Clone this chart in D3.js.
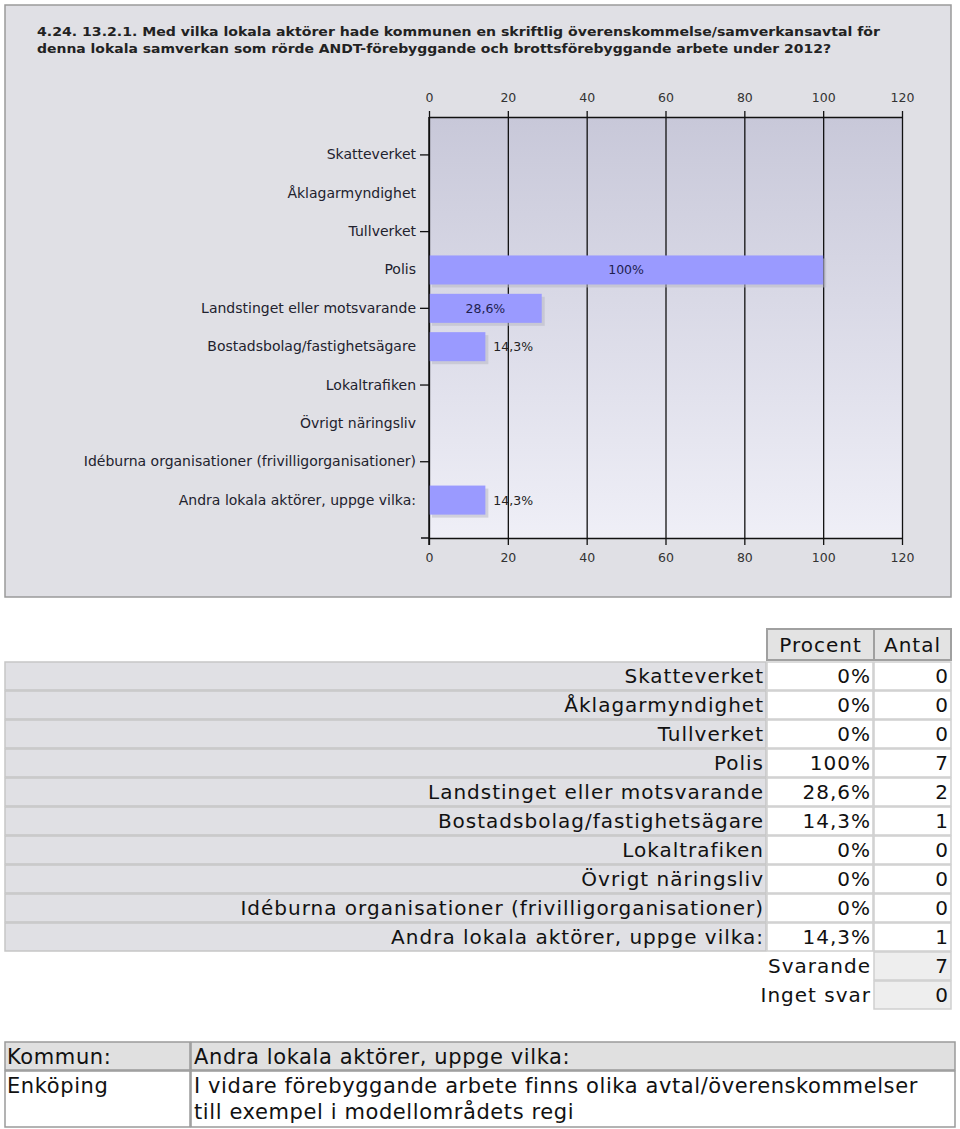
<!DOCTYPE html>
<html><head><meta charset="utf-8">
<script src="https://cdn.jsdelivr.net/npm/d3@7/dist/d3.min.js"></script>
<style>body{margin:0;background:#fff;}svg{display:block;font-family:"DejaVu Sans",Verdana,sans-serif;}</style>
</head><body>
<script>
const titleLines = [
  "4.24. 13.2.1. Med vilka lokala aktörer hade kommunen en skriftlig överenskommelse/samverkansavtal för",
  "denna lokala samverkan som rörde ANDT-förebyggande och brottsförebyggande arbete under 2012?"
];
const categories = ["Skatteverket","Åklagarmyndighet","Tullverket","Polis","Landstinget eller motsvarande",
  "Bostadsbolag/fastighetsägare","Lokaltrafiken","Övrigt näringsliv",
  "Idéburna organisationer (frivilligorganisationer)","Andra lokala aktörer, uppge vilka:"];
const percent = [0,0,0,100,28.6,14.3,0,0,0,14.3];
const percentLabels = ["0%","0%","0%","100%","28,6%","14,3%","0%","0%","0%","14,3%"];
const counts = [0,0,0,7,2,1,0,0,0,1];
const xTicks = [0,20,40,60,80,100,120];
const summaryLabels = ["Svarande","Inget svar"];
const summaryValues = [7,0];
const commentHeader = ["Kommun:","Andra lokala aktörer, uppge vilka:"];
const commentKommun = "Enköping";
const commentLines = ["I vidare förebyggande arbete finns olika avtal/överenskommelser","till exempel i modellområdets regi"];

const svg = d3.select("body").append("svg").attr("width",960).attr("height",1129);
const defs = svg.append("defs");
const grad = defs.append("linearGradient").attr("id","bg").attr("x1",0).attr("y1",0).attr("x2",0).attr("y2",1);
grad.append("stop").attr("offset","0%").attr("stop-color","#c8c8d9");
grad.append("stop").attr("offset","100%").attr("stop-color","#efeff7");

// panel
svg.append("rect").attr("x",5).attr("y",5).attr("width",946).attr("height",592)
  .attr("fill","#e0e0e5").attr("stroke","#9a9a9a").attr("stroke-width",1.5);

svg.selectAll("text.title").data(titleLines).join("text").attr("class","title")
  .attr("x",37).attr("y",(d,i)=>36+i*17).attr("font-size",13).attr("font-weight","bold")
  .attr("fill","#222").attr("textLength",(d,i)=>i===0?843:794).attr("lengthAdjust","spacingAndGlyphs")
  .text(d=>d);

const x = d3.scaleLinear().domain([0,120]).range([429,902]);
const y = d3.scaleBand().domain(categories).range([117,538]).paddingInner(0.243).paddingOuter(0.61);
const yTop = 117, yBot = 538;

svg.append("rect").attr("x",x(0)).attr("y",yTop).attr("width",x(120)-x(0)).attr("height",yBot-yTop).attr("fill","url(#bg)");

// grid lines
svg.append("g").attr("transform",`translate(0,${yBot})`)
  .call(d3.axisBottom(x).tickValues(xTicks).tickSize(-(yBot-yTop)).tickFormat(""))
  .call(g=>g.select(".domain").remove())
  .call(g=>g.selectAll("line").attr("stroke","#111").attr("stroke-width",1.3));

// bars
const data = categories.map((c,i)=>({c,v:percent[i],l:percentLabels[i]}));
const nz = data.filter(d=>d.v>0);
svg.selectAll("rect.shadow").data(nz).join("rect").attr("class","shadow")
  .attr("x",x(0)+3).attr("y",d=>y(d.c)+3).attr("width",d=>x(d.v)-x(0)).attr("height",y.bandwidth())
  .attr("fill","#b8b8c4").attr("opacity",0.55);
svg.selectAll("rect.bar").data(nz).join("rect").attr("class","bar")
  .attr("x",x(0)).attr("y",d=>y(d.c)).attr("width",d=>x(d.v)-x(0)).attr("height",y.bandwidth())
  .attr("fill","#9a9aff");
svg.selectAll("text.val").data(nz).join("text").attr("class","val")
  .attr("x",d=> (x(d.v)-x(0))>70 ? (x(0)+x(d.v))/2 : x(d.v)+8)
  .attr("text-anchor",d=> (x(d.v)-x(0))>70 ? "middle":"start")
  .attr("y",d=>y(d.c)+y.bandwidth()/2).attr("dy","0.36em")
  .attr("font-size",12.5).attr("fill",d=>(x(d.v)-x(0))>70?"#1e1e50":"#222").text(d=>d.l);

// y axis labels
const ya = svg.append("g").attr("transform",`translate(${x(0)},0)`)
  .call(d3.axisLeft(y).tickSize(0).tickPadding(13));
ya.select(".domain").remove();
ya.selectAll("text").attr("font-size",14).attr("fill","#22222e").attr("font-family","DejaVu Sans, Verdana, sans-serif");
svg.selectAll("line.ytick").data(categories.filter((c,i)=>i%2===0)).join("line").attr("class","ytick")
  .attr("x1",x(0)-9).attr("x2",x(0)).attr("y1",d=>y(d)+y.bandwidth()/2).attr("y2",d=>y(d)+y.bandwidth()/2)
  .attr("stroke","#111").attr("stroke-width",1.3);
svg.append("line").attr("x1",x(0)).attr("x2",x(0)).attr("y1",yTop).attr("y2",yBot+7).attr("stroke","#111").attr("stroke-width",1.5);

// x axes
function styleAxis(g){
  g.select(".domain").attr("stroke","#111").attr("stroke-width",1.5);
  g.selectAll(".tick line").attr("stroke","#111").attr("stroke-width",1.3);
  g.selectAll("text").attr("font-size",12.5).attr("fill","#333").attr("font-family","DejaVu Sans, Verdana, sans-serif");
}
svg.append("g").attr("transform",`translate(0,${yTop})`)
  .call(d3.axisTop(x).tickValues(xTicks).tickSize(6).tickSizeOuter(0).tickPadding(9)).call(styleAxis);
svg.append("g").attr("transform",`translate(0,${yBot})`)
  .call(d3.axisBottom(x).tickValues(xTicks).tickSize(7).tickSizeOuter(0).tickPadding(8)).call(styleAxis);
svg.append("line").attr("x1",x(0)-8).attr("x2",x(0)).attr("y1",yBot).attr("y2",yBot).attr("stroke","#111").attr("stroke-width",1.5);

// ===== data table =====
const rowY = d3.scaleBand().domain(d3.range(categories.length+2)).range([662,662+29*12]);
const tbl = svg.append("g").attr("font-size",20).attr("letter-spacing","1px").attr("fill","#111");
[["Procent",767,874],["Antal",874,951]].forEach(([t,a,b])=>{
  tbl.append("rect").attr("x",a).attr("y",629).attr("width",b-a).attr("height",31)
    .attr("fill","#e3e3e3").attr("stroke","#a0a0a0").attr("stroke-width",2);
  tbl.append("text").attr("x",(a+b)/2).attr("y",644.5).attr("dy","0.36em").attr("text-anchor","middle").text(t);
});
categories.forEach((c,i)=>{
  const yy = rowY(i);
  tbl.append("rect").attr("x",5).attr("y",yy).attr("width",761).attr("height",28).attr("fill","#e0e0e4").attr("stroke","#c6c6c6").attr("stroke-width",1.5);
  tbl.append("rect").attr("x",767).attr("y",yy).attr("width",106).attr("height",28).attr("fill","#fff").attr("stroke","#cfcfcf").attr("stroke-width",1.5);
  tbl.append("rect").attr("x",874).attr("y",yy).attr("width",77).attr("height",28).attr("fill","#fff").attr("stroke","#cfcfcf").attr("stroke-width",1.5);
  tbl.append("text").attr("x",764).attr("y",yy+14).attr("dy","0.36em").attr("text-anchor","end").text(c);
  tbl.append("text").attr("x",871).attr("y",yy+14).attr("dy","0.36em").attr("text-anchor","end").text(percentLabels[i]);
  tbl.append("text").attr("x",949).attr("y",yy+14).attr("dy","0.36em").attr("text-anchor","end").text(counts[i]);
});
summaryLabels.forEach((s,j)=>{
  const yy = rowY(categories.length+j);
  tbl.append("rect").attr("x",874).attr("y",yy).attr("width",77).attr("height",28).attr("fill","#eeeeee").attr("stroke","#cfcfcf").attr("stroke-width",1.5);
  tbl.append("text").attr("x",871).attr("y",yy+14).attr("dy","0.36em").attr("text-anchor","end").text(s);
  tbl.append("text").attr("x",949).attr("y",yy+14).attr("dy","0.36em").attr("text-anchor","end").text(summaryValues[j]);
});

// ===== comment table =====
const ct = svg.append("g").attr("font-size",21).attr("letter-spacing","0.6px").attr("fill","#111");
ct.append("rect").attr("x",5).attr("y",1042).attr("width",185).attr("height",28).attr("fill","#e0e0e0").attr("stroke","#9a9a9a").attr("stroke-width",1.5);
ct.append("rect").attr("x",191).attr("y",1042).attr("width",764).attr("height",28).attr("fill","#e0e0e0").attr("stroke","#9a9a9a").attr("stroke-width",1.5);
ct.append("rect").attr("x",5).attr("y",1071).attr("width",185).attr("height",56).attr("fill","#fff").attr("stroke","#9a9a9a").attr("stroke-width",1.5);
ct.append("rect").attr("x",191).attr("y",1071).attr("width",764).attr("height",56).attr("fill","#fff").attr("stroke","#9a9a9a").attr("stroke-width",1.5);
ct.append("text").attr("x",7).attr("y",1064).text(commentHeader[0]);
ct.append("text").attr("x",194).attr("y",1064).text(commentHeader[1]);
ct.append("text").attr("x",7).attr("y",1093).text(commentKommun);
commentLines.forEach((l,i)=>ct.append("text").attr("x",194).attr("y",1093+26*i).text(l));
</script>
</body></html>
